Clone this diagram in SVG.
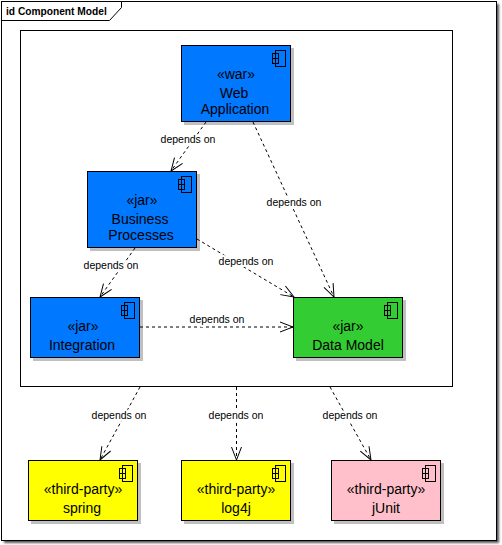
<svg xmlns="http://www.w3.org/2000/svg" width="502" height="545" viewBox="0 0 502 545">
<style>
text{font-family:"Liberation Sans",Arial,sans-serif;fill:#000}
.n{font-size:14px;text-anchor:middle}
.l{font-size:10.5px;text-anchor:middle;paint-order:stroke;stroke:#fff;stroke-width:4px;stroke-linejoin:round}
.t{font-size:10.2px;font-weight:bold}
.b{stroke:#000;stroke-width:1;shape-rendering:crispEdges}
.s{fill:#c0c0c0}
.i{fill:none;stroke:#000;stroke-width:1;shape-rendering:crispEdges}
.c{fill:none;stroke:#000;stroke-width:1;stroke-dasharray:3 3;marker-end:url(#a)}
.blue{fill:#0078ff}.green{fill:#33cc33}.yellow{fill:#ffff00}.pink{fill:#ffc0cb}
</style>
<defs>
<marker id="a" markerUnits="userSpaceOnUse" markerWidth="16" markerHeight="16" refX="14" refY="8" orient="auto" overflow="visible">
<path d="M1 3L14 8L1 13" fill="none" stroke="#000"/>
</marker>
<filter id="f" x="-2%" y="-2%" width="104%" height="104%"><feGaussianBlur stdDeviation="1.2"/></filter>
<g id="ic"><rect class="i" x="3.5" y="0.5" width="10" height="16"/><rect x="0.5" y="3.5" width="6" height="5" class="i"/><rect x="0.5" y="8.500" width="6" height="5" class="i"/></g>
</defs>
<rect width="502" height="545" fill="#fff"/>
<g id="frame">
<rect x="4" y="4" width="495" height="539" fill="#555" filter="url(#f)"/>
<rect class="b" x="1.5" y="1.5" width="495" height="539" fill="#fff"/>
<path class="i" d="M1.5 20.5H109.5L121.5 7.5V1.5" style="shape-rendering:auto"/>
<text class="t" x="6" y="14.5">id Component Model</text>
</g>
<g id="container"><rect class="b" x="20.5" y="30.5" width="432" height="356" fill="#fff"/></g>
<g id="web"><rect class="s" x="184" y="48" width="110" height="77"/><rect class="b blue" x="181.500" y="45.500" width="109" height="76"/><use href="#ic" x="272" y="50"/><text class="n" x="236" y="79">«war»</text><text class="n" x="234" y="98">Web</text><text class="n" x="235" y="114">Application</text></g>
<g id="business"><rect class="s" x="90" y="174" width="110" height="77"/><rect class="b blue" x="87.500" y="171.500" width="109" height="76"/><use href="#ic" x="178" y="176"/><text class="n" x="142" y="205">«jar»</text><text class="n" x="140" y="224">Business</text><text class="n" x="141" y="240">Processes</text></g>
<g id="integration"><rect class="s" x="33" y="300" width="110" height="61"/><rect class="b blue" x="30.500" y="297.500" width="109" height="60"/><use href="#ic" x="121" y="302"/><text class="n" x="83" y="331">«jar»</text><text class="n" x="82" y="350">Integration</text></g>
<g id="datamodel"><rect class="s" x="296" y="300" width="110" height="61"/><rect class="b green" x="293.500" y="297.500" width="109" height="60"/><use href="#ic" x="384" y="302"/><text class="n" x="348" y="331">«jar»</text><text class="n" x="348" y="350">Data Model</text></g>
<g id="spring"><rect class="s" x="31" y="463" width="110" height="61"/><rect class="b yellow" x="28.500" y="460.500" width="109" height="60"/><use href="#ic" x="119" y="465"/><text class="n" x="83" y="494">«third-party»</text><text class="n" x="82" y="513">spring</text></g>
<g id="log4j"><rect class="s" x="184" y="463" width="110" height="61"/><rect class="b yellow" x="181.500" y="460.500" width="109" height="60"/><use href="#ic" x="272" y="465"/><text class="n" x="236" y="494">«third-party»</text><text class="n" x="236" y="513">log4j</text></g>
<g id="junit"><rect class="s" x="334" y="463" width="110" height="61"/><rect class="b pink" x="331.500" y="460.500" width="109" height="60"/><use href="#ic" x="422" y="465"/><text class="n" x="386" y="494">«third-party»</text><text class="n" x="386" y="513">jUnit</text></g>
<g id="connectors">
<path class="c" d="M206 122L171 171"/>
<path class="c" d="M253 122L334 297"/>
<path class="c" d="M197 239L294 297"/>
<path class="c" d="M135 248L100 297"/>
<path class="c" d="M140 327H293"/>
<path class="c" d="M140 387L100 460"/>
<path class="c" d="M236.500 387V460"/>
<path class="c" d="M330 387L371 460"/>
<text class="l" x="188" y="143">depends on</text>
<text class="l" x="294" y="206">depends on</text>
<text class="l" x="246" y="265">depends on</text>
<text class="l" x="111" y="269">depends on</text>
<text class="l" x="217" y="323">depends on</text>
<text class="l" x="119" y="419">depends on</text>
<text class="l" x="236" y="419">depends on</text>
<text class="l" x="350" y="419">depends on</text>
</g>
</svg>
